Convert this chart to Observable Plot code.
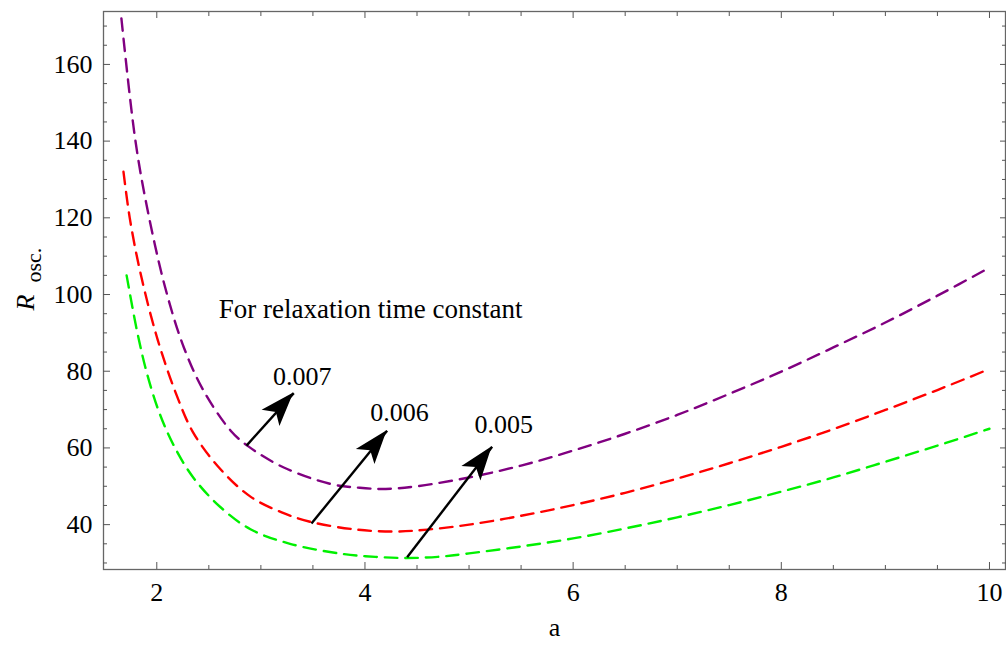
<!DOCTYPE html>
<html><head><meta charset="utf-8">
<script src="https://cdn.jsdelivr.net/npm/d3@7"></script>
<script src="https://cdn.jsdelivr.net/npm/@observablehq/plot@0.6"></script>
<style>html,body{margin:0;padding:0;background:#fff}#chart svg{display:block}</style>
</head><body><div id="chart"></div>
<script>
// relaxation time constant 0.007 (purple)
const aPurple = [1.66, 1.79, 1.90, 2.08, 2.26, 2.45, 2.71, 2.88, 3.22, 3.67, 3.95, 4.2, 4.5, 5.0, 5.5, 6.0, 6.5, 7.0, 7.5, 8.0, 8.5, 9.0, 9.5, 10.0];
const rPurple = [172, 141, 123.6, 101.9, 86.2, 74.9, 64.5, 60.4, 54.9, 50.6, 49.6, 49.3, 50.0, 52.3, 55.4, 59.3, 63.7, 68.6, 74.1, 79.9, 86.2, 92.7, 99.7, 107];
// 0.006 (red)
const aRed = [1.68, 1.74, 1.84, 2.0, 2.18, 2.35, 2.61, 2.9, 3.2, 3.48, 3.92, 4.3, 4.6, 5.0, 5.5, 6.0, 6.5, 7.0, 7.5, 8.0, 8.5, 9.0, 9.5, 10.0];
const rRed = [132, 120, 106, 89, 74.5, 64, 54.5, 47.3, 43.2, 40.7, 38.7, 38.2, 38.7, 40.0, 42.3, 45.1, 48.3, 52.0, 56.0, 60.3, 64.9, 69.9, 75.1, 80.6];
// 0.005 (green)
const aGreen = [1.71, 1.81, 1.90, 2.02, 2.16, 2.35, 2.61, 2.90, 3.28, 3.80, 4.10, 4.40, 4.70, 5.0, 5.5, 6.0, 6.5, 7.0, 7.5, 8.0, 8.5, 9.0, 9.5, 10.0];
const rGreen = [105, 90.5, 80.0, 69.5, 60.8, 52.3, 44.6, 38.8, 35.0, 32.3, 31.6, 31.3, 31.6, 32.5, 34.3, 36.4, 39.0, 41.9, 45.1, 48.6, 52.3, 56.4, 60.6, 65.0];

// annotation arrows (tail on curve -> tip near label)
const arrowLabels = ["0.007", "0.006", "0.005"];
const arrowTailA = [2.862, 3.486, 4.405];
const arrowTailR = [60.6, 40.3, 31.5];
const arrowTipA = [3.316, 4.213, 5.222];
const arrowTipR = [74.3, 64.5, 60.3];
const labelA = [3.397, 4.333, 5.333];
const labelR = [78.7, 69.1, 66.0];

const noteText = ["For relaxation time constant"];
const noteA = [2.596];
const noteR = [96.1];

const xMajor = [2, 4, 6, 8, 10];
const xMinor = [2.5, 3, 3.5, 4.5, 5, 5.5, 6.5, 7, 7.5, 8.5, 9, 9.5];
const yMajor = [40, 60, 80, 100, 120, 140, 160];
const yMinor = [30, 35, 45, 50, 55, 65, 70, 75, 85, 90, 95, 105, 110, 115, 125, 130, 135, 145, 150, 155, 165, 170];

const toRows = (A, R) => A.map((a, i) => ({a, r: R[i]}));
const arrows = arrowLabels.map((l, i) => ({l, a1: arrowTailA[i], r1: arrowTailR[i], a2: arrowTipA[i], r2: arrowTipR[i], la: labelA[i], lr: labelR[i]}));

const dash = {curve: "catmull-rom", strokeWidth: 2.4, strokeDasharray: "12.5,8"};
const tickCol = "#555";
const font = "'Liberation Serif', 'Times New Roman', serif";

const plot = Plot.plot({
  width: 1006, height: 653,
  marginLeft: 103, marginRight: 1, marginTop: 11, marginBottom: 84,
  style: {fontFamily: font, fontSize: "26px", color: "black", background: "white"},
  x: {domain: [1.488, 10.154]},
  y: {domain: [28.3, 173.8]},
  marks: [
    Plot.frame({stroke: "#666", strokeWidth: 1.3}),
    // labels
    Plot.axisX(xMajor, {anchor: "bottom", tickSize: 0, tickPadding: 13, label: null, fontSize: 26, fill: "black"}),
    Plot.axisY(yMajor, {anchor: "left", tickSize: 0, tickPadding: 11, label: null, fontSize: 26, fill: "black"}),
    // inward ticks
    Plot.axisX(xMajor, {anchor: "bottom", tickSize: -7, tickFormat: () => "", label: null, stroke: tickCol}),
    Plot.axisX(xMinor, {anchor: "bottom", tickSize: -4, tickFormat: () => "", label: null, stroke: tickCol}),
    Plot.axisX(xMajor, {anchor: "top", tickSize: -6, tickFormat: () => "", label: null, stroke: tickCol}),
    Plot.axisX(xMinor, {anchor: "top", tickSize: -4, tickFormat: () => "", label: null, stroke: tickCol}),
    Plot.axisY(yMajor, {anchor: "left", tickSize: -7, tickFormat: () => "", label: null, stroke: tickCol}),
    Plot.axisY(yMinor, {anchor: "left", tickSize: -4, tickFormat: () => "", label: null, stroke: tickCol}),
    Plot.axisY(yMajor, {anchor: "right", tickSize: -6, tickFormat: () => "", label: null, stroke: tickCol}),
    Plot.axisY(yMinor, {anchor: "right", tickSize: -4, tickFormat: () => "", label: null, stroke: tickCol}),
    // curves
    Plot.line(toRows(aPurple, rPurple), {x: "a", y: "r", stroke: "#800080", ...dash}),
    Plot.line(toRows(aRed, rRed), {x: "a", y: "r", stroke: "#ff0000", ...dash}),
    Plot.line(toRows(aGreen, rGreen), {x: "a", y: "r", stroke: "#00f000", ...dash}),
    // arrow shafts
    Plot.link(arrows, {x1: "a1", y1: "r1", x2: "a2", y2: "r2", stroke: "black", strokeWidth: 2.4}),
    Plot.text(arrows, {x: "la", y: "lr", text: "l", fontSize: 26, fill: "black"}),
    Plot.text(noteText, {x: noteA, y: noteR, text: d => d, textAnchor: "start", fontSize: 27, fill: "black"}),
    // axis titles
    Plot.text(["a"], {frameAnchor: "bottom", dy: 66, text: d => d, fontSize: 26, fill: "black"}),
    Plot.text(["R"], {frameAnchor: "left", dx: -78, dy: 20, rotate: -90, text: d => d, fontStyle: "italic", fontSize: 26, fill: "black"}),
    Plot.text(["osc."], {frameAnchor: "left", dx: -70, dy: -8, rotate: -90, text: d => d, fontSize: 22, fill: "black"})
  ]
});

// filled arrowheads, positioned through the plot's own scales
const sx = plot.scale("x"), sy = plot.scale("y");
const svg = d3.select(plot);
arrows.forEach(d => {
  const x1 = sx.apply(d.a1), y1 = sy.apply(d.r1), x2 = sx.apply(d.a2), y2 = sy.apply(d.r2);
  const L = Math.hypot(x2 - x1, y2 - y1), ux = (x2 - x1) / L, uy = (y2 - y1) / L;
  const nx = -uy, ny = ux, back = 34, half = 12, notch = 26;
  const pts = [
    [x2, y2],
    [x2 - ux * back + nx * half, y2 - uy * back + ny * half],
    [x2 - ux * notch, y2 - uy * notch],
    [x2 - ux * back - nx * half, y2 - uy * back - ny * half]
  ];
  svg.append("polygon").attr("points", pts.map(p => p.join(",")).join(" ")).attr("fill", "black");
});

document.getElementById("chart").appendChild(plot);
</script>
</body></html>
